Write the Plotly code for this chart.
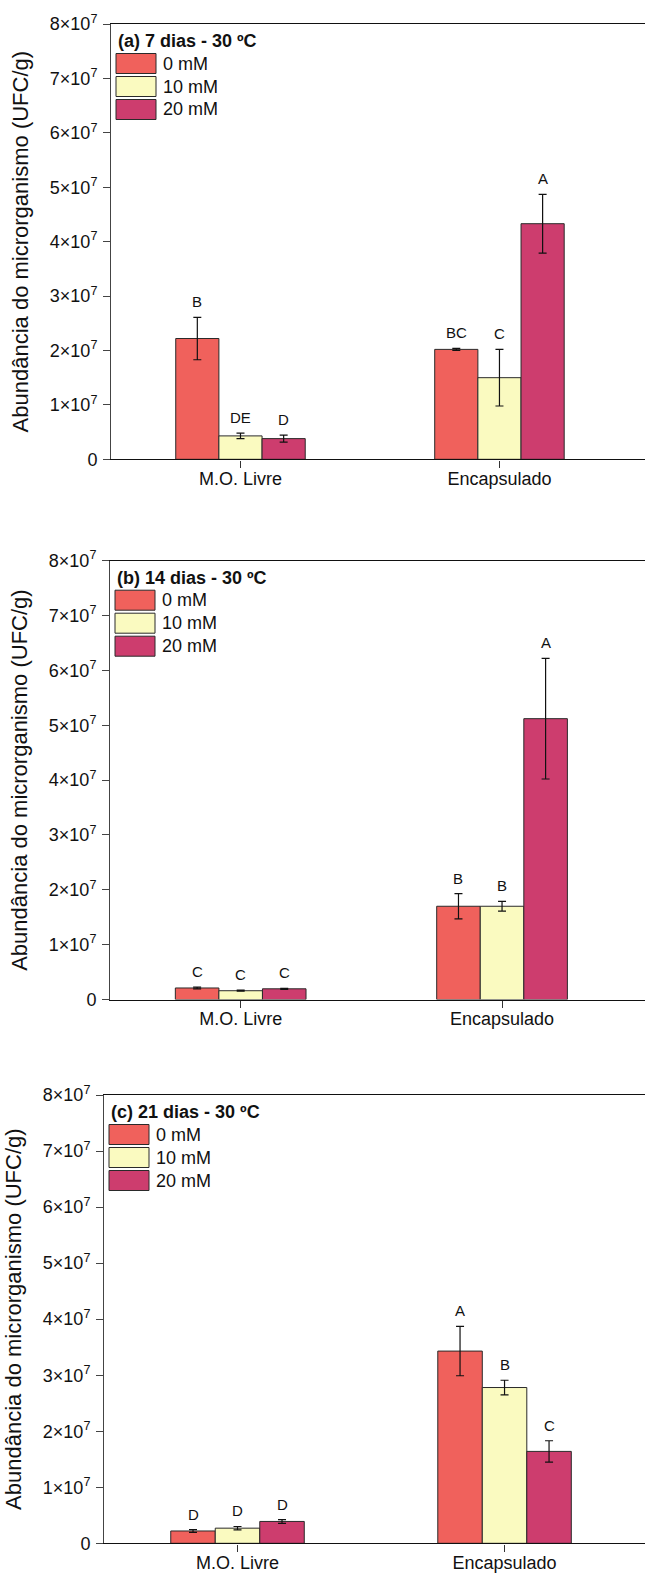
import plotly.graph_objects as go

# ---- data -------------------------------------------------------------
categories = ["M.O. Livre", "Encapsulado"]
series_names = ["0 mM", "10 mM", "20 mM"]
panel_titles = ["(a) 7 dias - 30 ºC", "(b) 14 dias - 30 ºC", "(c) 21 dias - 30 ºC"]

# 7 dias
d7_0mM = [2.22e7, 2.02e7]
d7_10mM = [0.43e7, 1.50e7]
d7_20mM = [0.38e7, 4.33e7]
d7_err_0mM = [0.39e7, 0.02e7]
d7_err_10mM = [0.05e7, 0.52e7]
d7_err_20mM = [0.065e7, 0.54e7]
d7_letters = [["B", "BC"], ["DE", "C"], ["D", "A"]]

# 14 dias
d14_0mM = [0.21e7, 1.70e7]
d14_10mM = [0.16e7, 1.70e7]
d14_20mM = [0.195e7, 5.12e7]
d14_err_0mM = [0.015e7, 0.23e7]
d14_err_10mM = [0.01e7, 0.09e7]
d14_err_20mM = [0.01e7, 1.10e7]
d14_letters = [["C", "B"], ["C", "B"], ["C", "A"]]

# 21 dias
d21_0mM = [0.22e7, 3.43e7]
d21_10mM = [0.27e7, 2.78e7]
d21_20mM = [0.39e7, 1.64e7]
d21_err_0mM = [0.025e7, 0.44e7]
d21_err_10mM = [0.03e7, 0.13e7]
d21_err_20mM = [0.033e7, 0.19e7]
d21_letters = [["D", "A"], ["D", "B"], ["D", "C"]]

y_tickvals = [0, 1e7, 2e7, 3e7, 4e7, 5e7, 6e7, 7e7, 8e7]
y_ticktext = ["0"] + [f"{k}×10<sup>7</sup>" for k in range(1, 9)]
y_title = "Abundância do microrganismo (UFC/g)"

panels = [
    dict(means=[d7_0mM, d7_10mM, d7_20mM],
         errs=[d7_err_0mM, d7_err_10mM, d7_err_20mM], letters=d7_letters),
    dict(means=[d14_0mM, d14_10mM, d14_20mM],
         errs=[d14_err_0mM, d14_err_10mM, d14_err_20mM], letters=d14_letters),
    dict(means=[d21_0mM, d21_10mM, d21_20mM],
         errs=[d21_err_0mM, d21_err_10mM, d21_err_20mM], letters=d21_letters),
]

# ---- style ------------------------------------------------------------
W, H = 645, 1576
FONT = "Liberation Sans, Arial, Helvetica, sans-serif"
colors = ["#F0615C", "#FAFAC0", "#CD3D6E"]
edge = "#2a2a2a"

# plot-area frame of each panel in page pixels: left, top, bottom, right end of x range
frames = [
    dict(left=111, top=24, bottom=459.3, xmax=1.562),
    dict(left=110, top=560.7, bottom=999.5, xmax=1.547),
    dict(left=104, top=1095, bottom=1543.3, xmax=1.526),
]


def fx(p):
    return p / W


def fy(p):
    return 1 - p / H


fig = go.Figure()
annotations = []
shapes = []

for i, (panel, fr) in enumerate(zip(panels, frames)):
    n = "" if i == 0 else str(i + 1)
    xa, ya = "x" + n, "y" + n

    for j in range(3):
        fig.add_trace(go.Bar(
            x=categories, y=panel["means"][j], name=series_names[j],
            xaxis=xa, yaxis=ya, showlegend=False,
            marker=dict(color=colors[j], line=dict(color=edge, width=1)),
            error_y=dict(type="data", array=panel["errs"][j], visible=True,
                         color="#111", thickness=1.2, width=4),
        ))
        # significance letters above each error bar
        for k in range(len(categories)):
            annotations.append(dict(
                x=k + (j - 1) / 6, y=panel["means"][j][k] + panel["errs"][j][k],
                xref=xa, yref=ya, text=panel["letters"][j][k], showarrow=False,
                yanchor="bottom", yshift=5,
                font=dict(family=FONT, size=15, color="#111"),
            ))

    layout_x = dict(
        domain=[fx(fr["left"]), 1], anchor=ya, type="category", automargin=False,
        range=[-0.5, fr["xmax"]], showline=True, linecolor="#111", linewidth=1.4,
        mirror=True, ticks="outside", ticklen=7, tickcolor="#333", tickwidth=1,
        tickfont=dict(family=FONT, size=18, color="#111"),
        showgrid=False, zeroline=False, fixedrange=True, ticklabelstandoff=-4,
    )
    layout_y = dict(
        domain=[fy(fr["bottom"]), fy(fr["top"])], anchor=xa, automargin=False,
        range=[0, 8e7], tickvals=y_tickvals, ticktext=y_ticktext,
        showline=True, linecolor="#444", linewidth=1,
        ticks="outside", ticklen=7, tickcolor="#444", tickwidth=1,
        tickfont=dict(family=FONT, size=18, color="#111"), ticklabelstandoff=2,
        showgrid=False, zeroline=False, fixedrange=True,
        title=dict(text=y_title, font=dict(family=FONT, size=22, color="#111")),
    )
    fig.layout["xaxis" + n] = layout_x
    fig.layout["yaxis" + n] = layout_y

    # legend block in the upper left corner of the panel
    lx = fr["left"] + 5
    ty = fr["top"] + 17
    annotations.append(dict(
        x=fx(lx), y=fy(ty), xref="paper", yref="paper", xanchor="left", yanchor="middle",
        text="<b>" + panel_titles[i] + "</b>", showarrow=False,
        font=dict(family=FONT, size=18, color="#111"),
    ))
    for j, name in enumerate(series_names):
        cy = ty + 22.5 + 23 * j
        shapes.append(dict(
            type="rect", xref="paper", yref="paper",
            x0=fx(lx), x1=fx(lx + 40), y0=fy(cy + 10), y1=fy(cy - 10),
            fillcolor=colors[j], line=dict(color=edge, width=1),
        ))
        annotations.append(dict(
            x=fx(lx + 45), y=fy(cy), xref="paper", yref="paper",
            xanchor="left", yanchor="middle", text=name, showarrow=False,
            font=dict(family=FONT, size=18, color="#111"),
        ))

fig.update_layout(
    width=W, height=H, margin=dict(l=0, r=0, t=0, b=0, autoexpand=False),
    paper_bgcolor="white", plot_bgcolor="white",
    barmode="group", bargap=0.5, bargroupgap=0,
    annotations=annotations, shapes=shapes, showlegend=False,
    font=dict(family=FONT, color="#111"),
)

fig.write_html("out.html", config={"displayModeBar": False})
